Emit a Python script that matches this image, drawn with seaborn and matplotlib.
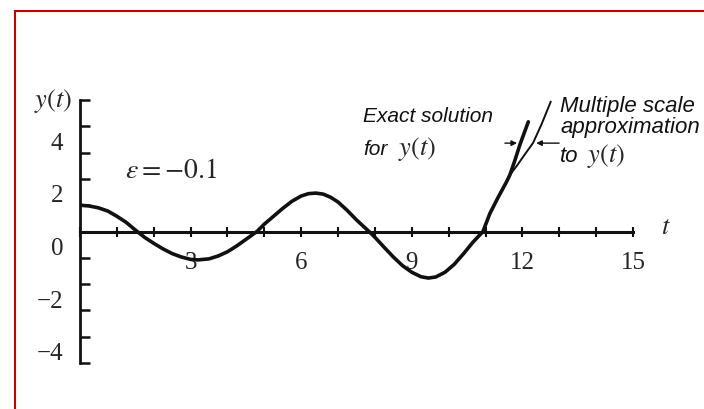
import matplotlib
matplotlib.use('Agg')
import matplotlib.pyplot as plt
import matplotlib.transforms as mtransforms
from matplotlib.patches import Rectangle
from matplotlib.ticker import MultipleLocator
import seaborn as sns

# curve: shared part, then the two branches that split near t = 11.66
t_common = [0.0, 0.25, 0.5, 0.75, 1.0, 1.25, 1.55, 1.75, 2.0, 2.25, 2.5, 2.75, 3.0, 3.2,
            3.5, 3.75, 4.0, 4.25, 4.5, 4.8, 5.0, 5.25, 5.5, 5.75, 6.0, 6.2, 6.4, 6.6,
            6.8, 7.0, 7.25, 7.5, 7.84, 8.0, 8.25, 8.5, 8.75, 9.0, 9.25, 9.45, 9.65,
            9.9, 10.15, 10.4, 10.65, 10.93, 11.12, 11.35, 11.57, 11.66]
y_common = [1.0, 0.97, 0.9, 0.78, 0.58, 0.35, 0.0, -0.22, -0.45, -0.66, -0.84, -0.97, -1.06, -1.08,
            -1.04, -0.93, -0.77, -0.55, -0.3, 0.0, 0.28, 0.58, 0.88, 1.15, 1.35, 1.44, 1.46, 1.42,
            1.3, 1.12, 0.8, 0.44, 0.0, -0.22, -0.6, -0.97, -1.3, -1.55, -1.72, -1.77, -1.73,
            -1.55, -1.25, -0.85, -0.42, 0.0, 0.69, 1.32, 1.89, 2.15]
t_exact_tail = [11.8, 11.93, 12.05, 12.16]
y_exact_tail = [2.72, 3.29, 3.75, 4.17]
t_approx_tail = [11.85, 12.05, 12.29, 12.52, 12.77]
y_approx_tail = [2.5, 2.9, 3.37, 4.08, 4.94]

x_tick_vals = [3, 6, 9, 12, 15]
x_tick_labels = ['3', '6', '9', '12', '15']
y_tick_vals = [4, 2, 0, -2, -4]
y_tick_labels = ['4', '2', '0', '\u22122', '\u22124']

t_exact = t_common + t_exact_tail
y_exact = y_common + y_exact_tail
t_approx = t_common + t_approx_tail
y_approx = y_common + y_approx_tail

ink = '#111111'

sns.set_style('white')
plt.rcParams['font.family'] = ['Liberation Serif', 'DejaVu Serif']
plt.rcParams['mathtext.fontset'] = 'stix'

fig = plt.figure(figsize=(7.04, 4.09), dpi=100)
ax = fig.add_axes([80 / 704, 46 / 409, 553 / 704, 263 / 409])

sns.lineplot(x=t_exact, y=y_exact, ax=ax, color=ink, lw=2.6, sort=False, estimator=None)
sns.lineplot(x=t_approx, y=y_approx, ax=ax, color=ink, lw=1.4, sort=False, estimator=None)

ax.set_xlim(0, 15)
ax.set_ylim(-5, 5)

# axes through the origin
ax.spines['top'].set_visible(False)
ax.spines['right'].set_visible(False)
ax.spines['bottom'].set_position('zero')
ax.spines['left'].set_linewidth(2.0)
ax.spines['bottom'].set_linewidth(2.2)
ax.spines['left'].set_color(ink)
ax.spines['bottom'].set_color(ink)

ax.set_xticks(x_tick_vals, x_tick_labels)
ax.set_yticks(y_tick_vals, y_tick_labels)
ax.xaxis.set_minor_locator(MultipleLocator(1))
ax.yaxis.set_minor_locator(MultipleLocator(1))
ax.tick_params(axis='x', which='both', direction='inout', length=7, width=1.5, color=ink,
               labelsize=18, pad=11, bottom=True)
ax.tick_params(axis='y', which='both', direction='in', length=7.5, width=1.8, color=ink,
               labelsize=18, pad=12, left=True)

# the y labels sit a bit below their ticks in the original
shift = mtransforms.ScaledTranslation(0, -0.15, fig.dpi_scale_trans)
for lab in ax.get_yticklabels():
    lab.set_transform(lab.get_transform() + shift)

ax.text(-0.22, 4.95, r'$y(t)$', ha='right', va='center', fontsize=19)
ax.text(15.9, 0.15, r'$t$', ha='center', va='center', fontsize=19)
ax.text(1.22, 2.3, r'$\varepsilon = -0.1$', ha='left', va='center', fontsize=20)

sans = dict(family='Liberation Sans', style='italic', color=ink)
ax.text(7.68, 4.15, 'Exact solution', va='baseline', fontsize=15, **sans)
ax.text(7.68, 2.91, 'for', va='baseline', fontsize=15, **sans)
ax.text(8.62, 2.91, r'$y(t)$', va='baseline', fontsize=19)
ax.text(13.02, 4.54, 'Multiple scale', va='baseline', fontsize=16, **sans)
ax.text(13.02, 3.74, 'approximation', va='baseline', fontsize=16, **sans)
ax.text(13.02, 2.64, 'to', va='baseline', fontsize=16, **sans)
ax.text(13.75, 2.64, r'$y(t)$', va='baseline', fontsize=19)

arrow = dict(arrowstyle='-|>', lw=1.0, color=ink, mutation_scale=8)
ax.annotate('', xy=(11.93, 3.36), xytext=(11.45, 3.36), arrowprops=arrow)
ax.annotate('', xy=(12.3, 3.36), xytext=(13.07, 3.36), arrowprops=arrow)

# red frame, cut off at the right and bottom
fig.patches.append(Rectangle((14.5 / 704, -0.5), 2, 1.5 - 11 / 409, transform=fig.transFigure,
                             fill=False, edgecolor='#c00000', lw=1.5))

fig.savefig('out.png', dpi=100)
